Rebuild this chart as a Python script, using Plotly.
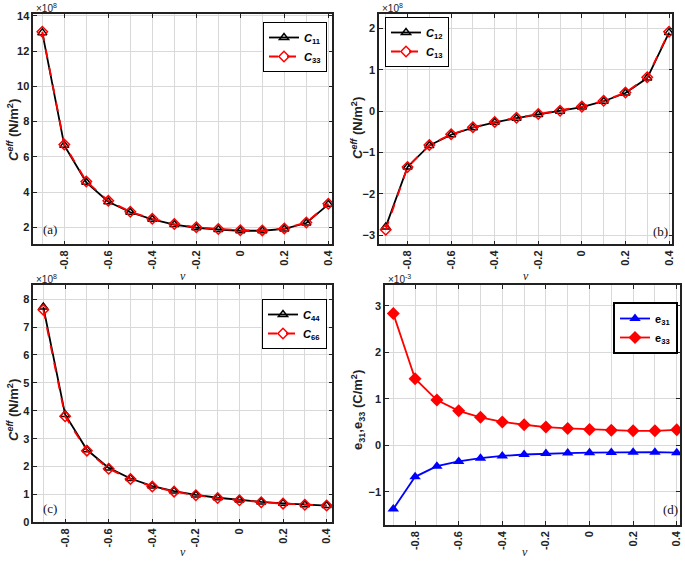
import plotly.graph_objects as go

nu = [-0.9, -0.8, -0.7, -0.6, -0.5, -0.4, -0.3, -0.2, -0.1, 0.0, 0.1, 0.2, 0.3, 0.4]

# panel (a)  (x 1e8 N/m^2)
c11 = [13.05, 6.65, 4.55, 3.45, 2.85, 2.45, 2.15, 1.97, 1.87, 1.80, 1.80, 1.90, 2.24, 3.30]
c33 = [13.10, 6.70, 4.60, 3.50, 2.88, 2.48, 2.18, 2.00, 1.90, 1.83, 1.82, 1.93, 2.27, 3.33]
# panel (b)
c12 = [-2.80, -1.35, -0.83, -0.57, -0.40, -0.27, -0.17, -0.08, 0.00, 0.10, 0.24, 0.44, 0.80, 1.90]
c13 = [-2.87, -1.35, -0.82, -0.56, -0.39, -0.26, -0.16, -0.07, 0.01, 0.11, 0.25, 0.45, 0.82, 1.92]
# panel (c)
c44 = [7.72, 3.87, 2.60, 1.95, 1.57, 1.30, 1.12, 0.98, 0.88, 0.80, 0.73, 0.68, 0.63, 0.60]
c66 = [7.62, 3.80, 2.57, 1.92, 1.55, 1.28, 1.10, 0.97, 0.87, 0.79, 0.72, 0.67, 0.63, 0.60]
# panel (d)  (x 1e-3 C/m^2)
e31 = [-1.37, -0.68, -0.45, -0.35, -0.28, -0.23, -0.20, -0.18, -0.17, -0.16, -0.155, -0.15, -0.15, -0.16]
e33 = [2.83, 1.43, 0.97, 0.74, 0.60, 0.50, 0.44, 0.39, 0.36, 0.34, 0.32, 0.31, 0.31, 0.33]

xtick_vals = [-0.8, -0.6, -0.4, -0.2, 0, 0.2, 0.4]
xtick_text = ["-0.8", "-0.6", "-0.4", "-0.2", "0", "0.2", "0.4"]

W, H = 685, 561
SANS = "Liberation Sans, Arial, sans-serif"
SERIF = "Liberation Serif, Times New Roman, serif"

fig = go.Figure()

def add_pair(y1, y2, n1, n2, ax, filled=False):
    xa = "x" if ax == 1 else f"x{ax}"
    ya = "y" if ax == 1 else f"y{ax}"
    lg = "legend" if ax == 1 else f"legend{ax}"
    if not filled:
        fig.add_trace(go.Scatter(x=nu, y=y1, name=n1, mode="lines+markers",
                                 line=dict(color="black", width=1.8),
                                 marker=dict(symbol="triangle-up-open", size=8, color="black",
                                             line=dict(width=1.5, color="black")),
                                 xaxis=xa, yaxis=ya, legend=lg))
        fig.add_trace(go.Scatter(x=nu, y=y2, name=n2, mode="lines+markers",
                                 line=dict(color="red", width=1.8, dash="dash"),
                                 marker=dict(symbol="diamond-open", size=8, color="red",
                                             line=dict(width=1.5, color="red")),
                                 xaxis=xa, yaxis=ya, legend=lg))
    else:
        fig.add_trace(go.Scatter(x=nu, y=y1, name=n1, mode="lines+markers",
                                 line=dict(color="blue", width=1.8),
                                 marker=dict(symbol="triangle-up", size=10, color="blue"),
                                 xaxis=xa, yaxis=ya, legend=lg))
        fig.add_trace(go.Scatter(x=nu, y=y2, name=n2, mode="lines+markers",
                                 line=dict(color="red", width=1.8),
                                 marker=dict(symbol="diamond", size=10, color="red"),
                                 xaxis=xa, yaxis=ya, legend=lg))

add_pair(c11, c33, "<b><i>C</i><sub>11</sub></b>", "<b><i>C</i><sub>33</sub></b>", 1)
add_pair(c12, c13, "<b><i>C</i><sub>12</sub></b>", "<b><i>C</i><sub>13</sub></b>", 2)
add_pair(c44, c66, "<b><i>C</i><sub>44</sub></b>", "<b><i>C</i><sub>66</sub></b>", 3)
add_pair(e31, e33, "<b>e<sub>31</sub></b>", "<b>e<sub>33</sub></b>", 4, filled=True)

def px_x(v):
    return v / W

def px_y(v):
    return 1 - v / H

# axes boxes in pixels: (left, right, top, bottom)
boxes = {
    1: (33.3, 332.3, 14.0, 244.3),
    2: (379.0, 672.3, 14.0, 244.3),
    3: (33.3, 332.3, 285.0, 522.3),
    4: (385.0, 680.0, 285.0, 525.0),
}
xranges = {1: [-0.941, 0.418], 2: [-0.931, 0.415], 3: [-0.946, 0.426], 4: [-0.938, 0.415]}
yranges = {1: [1.03, 14.11], 2: [-3.22, 2.35], 3: [0, 8.51], 4: [-1.716, 3.445]}
yticks = {1: [2, 4, 6, 8, 10, 12, 14], 2: [-3, -2, -1, 0, 1, 2], 3: [0, 1, 2, 3, 4, 5, 6, 7, 8],
          4: [-1, 0, 1, 2, 3]}

common = dict(showline=True, linecolor="#222", linewidth=1.5, mirror="ticks",
              ticks="inside", ticklen=4, tickwidth=1, tickcolor="#222",
              showgrid=True, gridcolor="#d9d9d9", gridwidth=1.3, zeroline=False,
              automargin=False,
              tickfont=dict(family=SANS, size=11, color="#222", weight="bold"))

layout = {}
for k, (l, r, t, b) in boxes.items():
    sx = "xaxis" if k == 1 else f"xaxis{k}"
    sy = "yaxis" if k == 1 else f"yaxis{k}"
    xa = "x" if k == 1 else f"x{k}"
    ya = "y" if k == 1 else f"y{k}"
    layout[sx] = dict(domain=[px_x(l), px_x(r)], range=xranges[k], anchor=ya,
                      tickvals=xtick_vals, ticktext=xtick_text, tickangle=-90,
                      minor=dict(dtick=0.1, tick0=0, showgrid=True, gridcolor="#d9d9d9",
                                 gridwidth=1.3, ticks=""),
                      **common)
    layout[sy] = dict(domain=[px_y(b), px_y(t)], range=yranges[k], anchor=xa,
                      tickvals=yticks[k], **common)

fig.update_layout(**layout)

# legends
legfont = dict(family=SANS, size=11, color="black")
def leg(xr, yt, xanchor="right", bw=1):
    return dict(x=px_x(xr), y=px_y(yt), xanchor=xanchor, yanchor="top", xref="paper", yref="paper",
                bgcolor="white", bordercolor="black", borderwidth=bw, font=legfont,
                tracegroupgap=0, itemwidth=30)

fig.update_layout(
    legend=leg(327, 22),
    legend2=leg(385, 17, xanchor="left"),
    legend3=leg(327, 299),
    legend4=leg(678, 302, bw=2),
)

annotations = []
# exponent labels
for (xp, txt) in [(35, "×10<sup>8</sup>"), (381, "×10<sup>8</sup>")]:
    annotations.append(dict(x=px_x(xp), y=px_y(15), xref="paper", yref="paper", text=txt,
                            showarrow=False, xanchor="left", yanchor="bottom", borderpad=0,
                            font=dict(family=SANS, size=10, color="#222")))
for (xp, txt) in [(35, "×10<sup>8</sup>"), (387, "×10<sup>-3</sup>")]:
    annotations.append(dict(x=px_x(xp), y=px_y(286), xref="paper", yref="paper", text=txt,
                            showarrow=False, xanchor="left", yanchor="bottom", borderpad=0,
                            font=dict(family=SANS, size=10, color="#222")))
# y titles
ytitle_c = "<b><i>C</i><sup><i>eff</i></sup> (N/m<sup>2</sup>)</b>"
for (xp, yp, txt) in [(13, 130, ytitle_c), (357, 128, ytitle_c), (13, 410, ytitle_c),
                       (358, 410, "<b>e<sub>31</sub>,e<sub>33</sub> (C/m<sup>2</sup>)</b>")]:
    annotations.append(dict(x=px_x(xp), y=px_y(yp), xref="paper", yref="paper", text=txt,
                            showarrow=False, textangle=-90, xanchor="center", yanchor="middle",
                            font=dict(family=SANS, size=13, color="#222")))
# x titles
for (xp, yp) in [(183, 276), (526, 276), (183, 552), (525, 552)]:
    annotations.append(dict(x=px_x(xp), y=px_y(yp), xref="paper", yref="paper",
                            text="<i>ν</i>", showarrow=False, xanchor="center", yanchor="middle",
                            font=dict(family=SERIF, size=12, color="#222")))
# panel labels
for (xp, yp, txt) in [(50, 229, "(a)"), (660, 231, "(b)"), (50, 508, "(c)"), (670, 509, "(d)")]:
    annotations.append(dict(x=px_x(xp), y=px_y(yp), xref="paper", yref="paper",
                            text=txt, showarrow=False, xanchor="center", yanchor="middle",
                            font=dict(family=SERIF, size=13, color="#111")))

fig.update_layout(annotations=annotations, width=W, height=H,
                  margin=dict(l=0, r=0, t=0, b=0),
                  paper_bgcolor="white", plot_bgcolor="white", showlegend=True)

# remove the page's default body margin so the figure fills the window exactly
fig.write_html("out.html", config={"displayModeBar": False},
               post_script="document.body.style.margin='0px';document.body.style.overflow='hidden';")
